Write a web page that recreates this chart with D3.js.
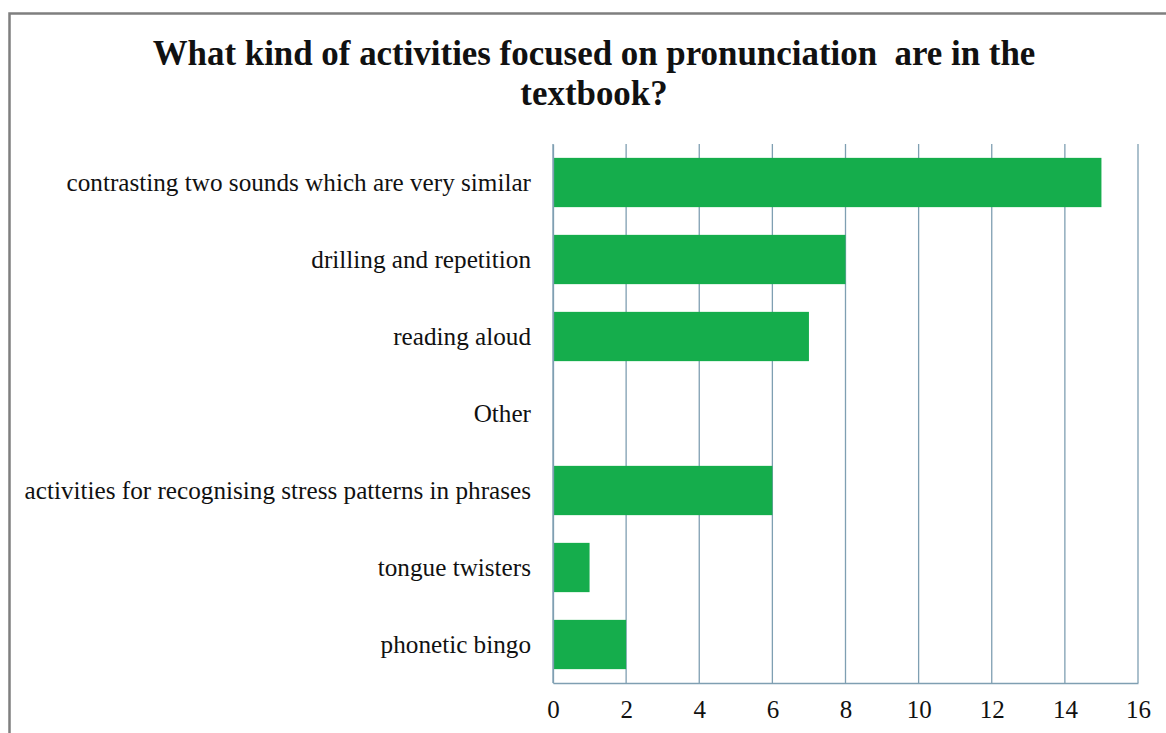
<!DOCTYPE html>
<html>
<head>
<meta charset="utf-8">
<script src="https://cdn.jsdelivr.net/npm/d3@7"></script>
<style>
  html, body { margin: 0; padding: 0; background: #fff; }
  svg { display: block; }
</style>
</head>
<body>
<svg id="chart" width="1166" height="733"></svg>
<script>
// Pronunciation activity types and how many textbooks include each
const categories = [
  "contrasting two sounds which are very similar",
  "drilling and repetition",
  "reading aloud",
  "Other",
  "activities for recognising stress patterns in phrases",
  "tongue twisters",
  "phonetic bingo"
];
const counts = [15, 8, 7, 0, 6, 1, 2];
const xTicks = [0, 2, 4, 6, 8, 10, 12, 14, 16];
const titleLines = [
  "What kind of activities focused on pronunciation  are in the",
  "textbook?"
];

const svg = d3.select("#chart");
const serif = "'Liberation Serif', 'Times New Roman', serif";

// outer frame
svg.append("rect")
  .attr("x", 9.5).attr("y", 13.5)
  .attr("width", 1200).attr("height", 800)
  .attr("fill", "#fff")
  .attr("stroke", "#7f7f7f").attr("stroke-width", 2.5);

const plot = { left: 553, right: 1138, top: 144, bottom: 683 };

const x = d3.scaleLinear().domain([0, 16]).range([plot.left, plot.right]);
const y = d3.scaleBand().domain(categories).range([plot.top, plot.bottom]).paddingInner(0.36).paddingOuter(0.18);

// vertical gridlines
svg.append("g").selectAll("line")
  .data(xTicks)
  .join("line")
  .attr("x1", d => x(d)).attr("x2", d => x(d))
  .attr("y1", plot.top).attr("y2", plot.bottom)
  .attr("stroke", "#7f9fb2").attr("stroke-width", 1.3);

// bars
svg.append("g").selectAll("rect")
  .data(categories)
  .join("rect")
  .attr("x", x(0))
  .attr("y", d => y(d))
  .attr("width", (d, i) => x(counts[i]) - x(0))
  .attr("height", y.bandwidth())
  .attr("fill", "#15ad4c");

// bottom axis
const xAxis = d3.axisBottom(x).tickValues(xTicks).tickSize(0).tickPadding(17);
const gx = svg.append("g").attr("transform", `translate(0,${plot.bottom})`).call(xAxis);
gx.select(".domain").attr("stroke", "#7f9fb2").attr("stroke-width", 1.5);
gx.selectAll("text").attr("font-family", serif).attr("font-size", 25).attr("fill", "#111");

// left axis line + category labels
const yAxis = d3.axisLeft(y).tickSize(0).tickPadding(22);
const gy = svg.append("g").attr("transform", `translate(${plot.left},0)`).call(yAxis);
gy.select(".domain").attr("stroke", "#7f9fb2").attr("stroke-width", 1.3);
gy.selectAll("text").attr("font-family", serif).attr("font-size", 25.2).attr("fill", "#111");

// title
svg.append("text")
  .attr("x", 594).attr("y", 65)
  .attr("text-anchor", "middle")
  .attr("font-family", serif).attr("font-weight", "bold").attr("font-size", 34.9)
  .attr("fill", "#111")
  .selectAll("tspan")
  .data(titleLines)
  .join("tspan")
  .attr("x", 594)
  .attr("dy", (d, i) => i === 0 ? 0 : 40)
  .attr("xml:space", "preserve")
  .text(d => d);
</script>
</body>
</html>
